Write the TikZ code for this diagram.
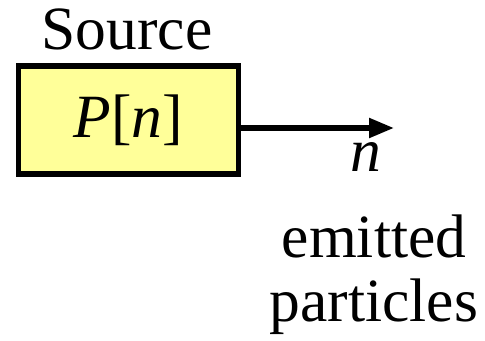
\documentclass[tikz,border=0pt]{standalone}
\usepackage{fontspec}
\setmainfont{Liberation Serif}
\usetikzlibrary{arrows.meta,positioning}
\definecolor{sarga}{RGB}{255,255,153}
\tikzset{
  forras/.style={draw,line width=2.9pt,fill=sarga,minimum width=4.4cm,minimum height=2.16cm,inner sep=0pt},
  felirat/.style={font=\fontsize{35}{37}\selectfont,inner sep=0pt},
  vnyil/.style={-{Triangle[length=5mm,width=3.8mm]},line width=3pt},
}
\begin{document}
\begin{tikzpicture}[x=0.02cm,y=-0.02cm]
  \useasboundingbox (0,0) rectangle (485,341);
  \node[forras,felirat] (src) at (128.5,120) {\textit{P}[\textit{n}]};
  \node[felirat,anchor=base] (cim) at (127,50) {Source};
  \coordinate (veg) at (394,128);
  \draw[vnyil] (src.east |- veg) -- (veg);
  \node[felirat,anchor=base] (szam) at (366,172) {\textit{n}};
  \node[felirat,anchor=base,align=center,font=\fontsize{35}{36.5}\selectfont] (kibocs) at (374,322) {emitted\\particles};
\end{tikzpicture}
\end{document}
